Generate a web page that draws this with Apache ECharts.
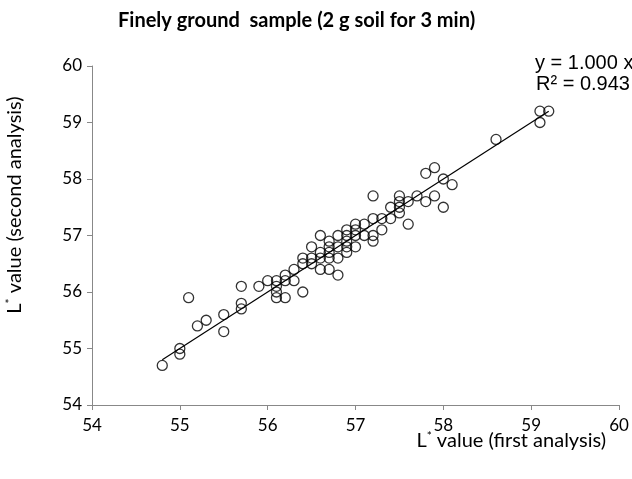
<!DOCTYPE html>
<html><head><meta charset="utf-8">
<script src="https://cdn.jsdelivr.net/npm/echarts@6/dist/echarts.min.js"></script>
<style>html,body{margin:0;padding:0;background:#fff}#c{width:632px;height:479px}</style>
</head><body><div id="c"></div>
<script>
const firstAnalysis = [54.8,55.0,55.0,55.1,55.2,55.3,55.5,55.5,55.7,55.7,55.7,55.9,56.0,56.1,56.1,56.1,56.1,56.2,56.2,56.2,56.3,56.3,56.4,56.4,56.4,56.5,56.5,56.5,56.6,56.6,56.6,56.6,56.7,56.7,56.7,56.7,56.7,56.8,56.8,56.8,56.8,56.9,56.9,56.9,56.9,56.9,57.0,57.0,57.0,57.0,57.1,57.1,57.2,57.2,57.2,57.2,57.3,57.3,57.4,57.4,57.5,57.5,57.5,57.5,57.6,57.6,57.7,57.8,57.8,57.9,57.9,58.0,58.0,58.1,58.6,59.1,59.1,59.2];
const secondAnalysis = [54.7,55.0,54.9,55.9,55.4,55.5,55.6,55.3,55.8,55.7,56.1,56.1,56.2,56.2,56.1,56.0,55.9,55.9,56.2,56.3,56.2,56.4,56.0,56.5,56.6,56.5,56.6,56.8,56.4,56.6,56.7,57.0,56.4,56.6,56.7,56.8,56.9,56.3,56.6,56.8,57.0,56.7,56.8,56.9,57.0,57.1,56.8,57.0,57.1,57.2,57.0,57.2,56.9,57.0,57.3,57.7,57.1,57.3,57.3,57.5,57.4,57.5,57.6,57.7,57.2,57.6,57.7,57.6,58.1,57.7,58.2,58.0,57.5,57.9,58.7,59.2,59.0,59.2];
const trendX = [54.8, 59.2];
const trendY = [54.8, 59.2];
const axisTicks = [54, 55, 56, 57, 58, 59, 60];
const titleText = 'Finely ground  sample (2 g soil for 3 min)';
const eqText = ['y = 1.000 x', 'R² = 0.943'];

const FONT = 'Lato, "Open Sans", sans-serif';
const chart = echarts.init(document.getElementById('c'), null, {renderer:'canvas'});
const pts = firstAnalysis.map((x,i)=>[x, secondAnalysis[i]]);
function axis(margin){
  return {
    type:'value', min:axisTicks[0], max:axisTicks[axisTicks.length-1], interval:1,
    axisLine:{show:true, lineStyle:{color:'#888', width:1}},
    axisTick:{show:true, length:5, lineStyle:{color:'#888'}},
    splitLine:{show:false},
    axisLabel:{color:'#000', fontFamily:FONT, fontSize:17, margin:margin}
  };
}
chart.setOption({
  animation:false,
  grid:{left:92, right:13, top:66, bottom:74, containLabel:false},
  xAxis:axis(12),
  yAxis:axis(10),
  series:[
    {type:'line', data:trendX.map((x,i)=>[x,trendY[i]]), symbol:'none', lineStyle:{color:'#000', width:1.2}, z:2},
    {type:'scatter', data:pts, symbol:'circle', symbolSize:10,
     itemStyle:{color:'rgba(255,255,255,0)', borderColor:'#000', borderWidth:1.3}, z:3}
  ],
  graphic:[
    {type:'text', x:118, y:21, style:{text:titleText, font:'bold 20px '+FONT, fill:'#000', verticalAlign:'middle'}},
    {type:'text', x:535, y:63, style:{text:eqText[0], font:'20px "Liberation Sans", Arial, sans-serif', fill:'#000', verticalAlign:'middle'}},
    {type:'text', x:536, y:84, style:{text:eqText[1], font:'20px "Liberation Sans", Arial, sans-serif', fill:'#000', verticalAlign:'middle'}},
    {type:'text', x:606, y:441, style:{
      text:'{n|L}{s|*}{n| value (first analysis)}', align:'right', verticalAlign:'middle',
      rich:{n:{font:'20px '+FONT, fill:'#000'}, s:{font:'12px '+FONT, fill:'#000', padding:[0,0,9,0]}}}},
    {type:'text', x:15, y:205, rotation:Math.PI/2, style:{
      text:'{n|L}{s|*}{n| value (second analysis)}', align:'center', verticalAlign:'middle',
      rich:{n:{font:'20px '+FONT, fill:'#000'}, s:{font:'12px '+FONT, fill:'#000', padding:[0,0,9,0]}}}}
  ]
});
</script></body></html>
